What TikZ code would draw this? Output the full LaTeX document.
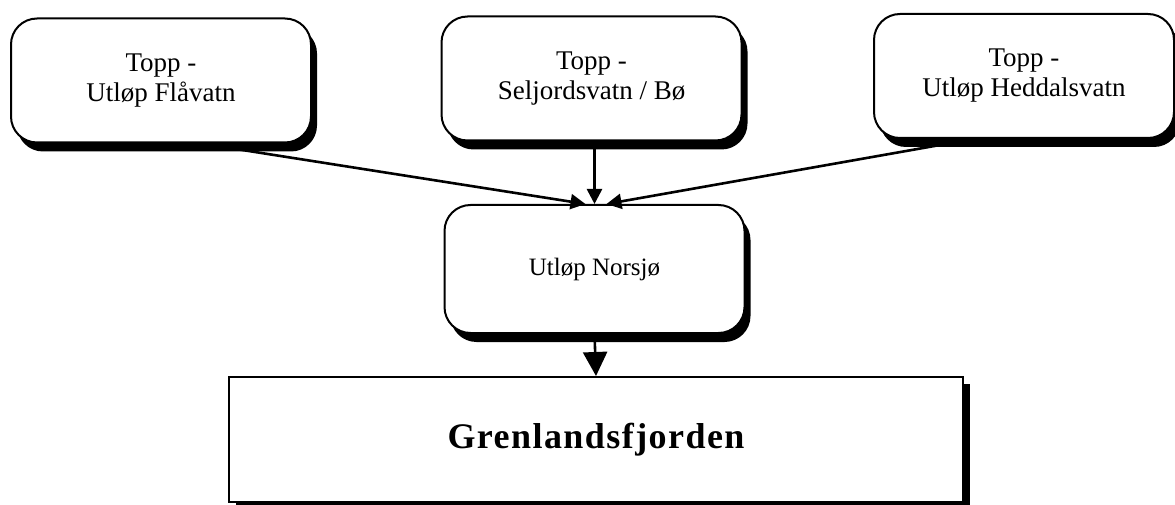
\documentclass[tikz,border=0pt]{standalone}
\usepackage{fontspec}
\setmainfont{Liberation Serif}
\newfontfamily\fjordfont[LetterSpace=4]{Liberation Serif}
\usetikzlibrary{arrows.meta,
  shadows
}
\tikzset{
  station/.style={draw, line width=2pt, rounded corners=26pt, fill=white,
    align=center, minimum width=300pt, minimum height=124pt,
    font=\fontsize{27}{30}\selectfont,
    drop shadow={shadow xshift=6pt, shadow yshift=-9pt, fill=black, opacity=1}},
  fjordbox/.style={draw, line width=2pt, fill=white,
    minimum width=734pt, minimum height=125pt,
    font=\fjordfont\bfseries\fontsize{36}{40}\selectfont,
    drop shadow={shadow xshift=7pt, shadow yshift=-7pt, fill=black, opacity=1}},
  flow/.style={line width=2.6pt, -{Triangle[length=15pt,width=15pt]}}
}

\begin{document}
\begin{tikzpicture}[x=1pt, y=1pt]
  \useasboundingbox (0,0) rectangle (1175,-505);

  % upper stations
  \node[station] (flaa) at (161,-80.5) {Topp -\\Utløp Flåvatn};
  \node[station] (selj) at (591.5,-78.5) {Topp -\\Seljordsvatn / Bø};
  \node[station] (hedd) at (1024,-76) {Topp -\\Utløp Heddalsvatn};

  % Norsjø
  \node[station, minimum height=128pt, font=\fontsize{25}{30}\selectfont]
    (norsjo) at (594.5,-269) {Utløp Norsjø};

  % fjord
  \node[fjordbox] (fjord) at (596,-439.5) {Grenlandsfjorden};

  % flows into Norsjø
  \draw[flow] ([xshift=40pt]flaa.south) -- ([xshift=-9pt]norsjo.north);
  \draw[flow] ([xshift=3pt]selj.south) -- (norsjo.north);
  \draw[flow] ([xshift=-50pt]hedd.south) -- ([xshift=12pt]norsjo.north);

  % Norsjø to fjord
  \draw[line width=2.6pt, -{Triangle[length=24pt,width=24pt]}] (norsjo.south) -- (fjord.north);
\end{tikzpicture}
\end{document}
